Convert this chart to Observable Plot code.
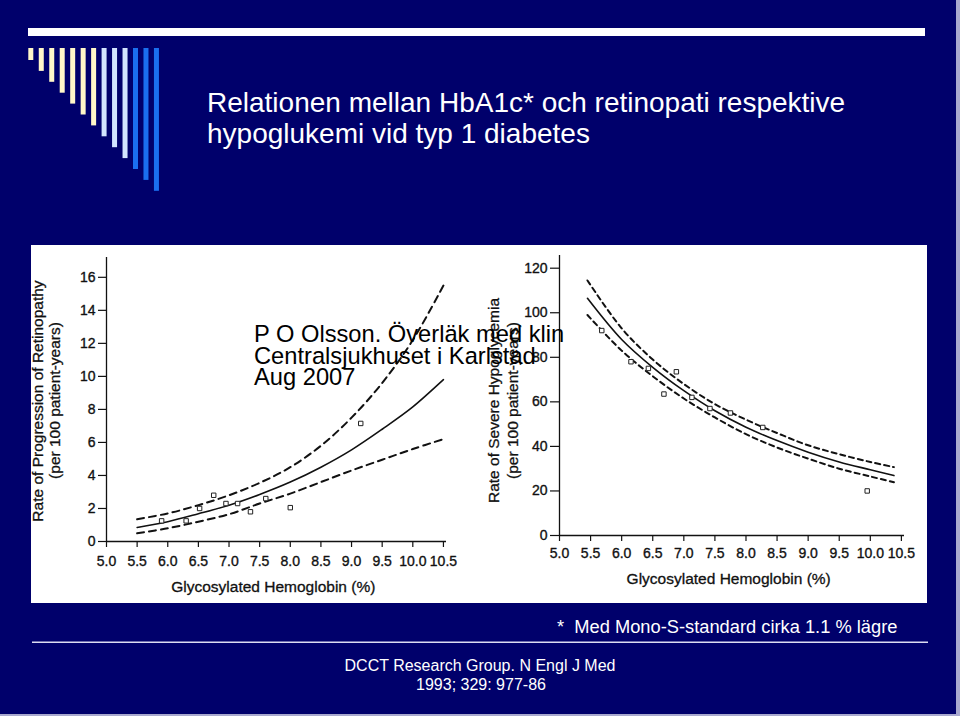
<!DOCTYPE html>
<html>
<head>
<meta charset="utf-8">
<script src="https://cdn.jsdelivr.net/npm/d3@7"></script>
<script src="https://cdn.jsdelivr.net/npm/@observablehq/plot@0.6"></script>
<style>
  html, body { margin: 0; padding: 0; background: #00006b; }
  #slide { position: relative; width: 960px; height: 716px; overflow: hidden; background: #00006b; }
  .layer { position: absolute; left: 0; top: 0; }
  .plotbox { position: absolute; top: 245px; }
  #fg { pointer-events: none; }
</style>
</head>
<body>
<div id="slide">
  <div id="leftPlot" class="plotbox" style="left:31px"></div>
  <div id="rightPlot" class="plotbox" style="left:480px"></div>
</div>
<script>
// ---------- DATA ----------
const xTicks = [5.0, 5.5, 6.0, 6.5, 7.0, 7.5, 8.0, 8.5, 9.0, 9.5, 10.0, 10.5];
const xTickLabels = ["5.0", "5.5", "6.0", "6.5", "7.0", "7.5", "8.0", "8.5", "9.0", "9.5", "10.0", "10.5"];
const retinoTicks = [0, 2, 4, 6, 8, 10, 12, 14, 16];
const hypoTicks = [0, 20, 40, 60, 80, 100, 120];

// Panel A: retinopathy progression
const retinoPointsX = [5.9, 6.3, 6.52, 6.75, 6.95, 7.14, 7.35, 7.6, 8.0, 9.15];
const retinoPointsY = [1.25, 1.25, 2.0, 2.8, 2.3, 2.3, 1.8, 2.6, 2.05, 7.15];
const retinoCurveX = [5.5, 6.0, 6.5, 7.0, 7.5, 8.0, 8.5, 9.0, 9.5, 10.0, 10.5];
const retinoFit   = [0.85, 1.2, 1.68, 2.2, 2.85, 3.6, 4.5, 5.55, 6.8, 8.15, 9.8];
const retinoUpper = [1.35, 1.7, 2.2, 2.8, 3.55, 4.5, 5.8, 7.5, 9.6, 12.2, 15.5];
const retinoLower = [0.5, 0.8, 1.2, 1.65, 2.3, 2.9, 3.6, 4.3, 4.95, 5.6, 6.2];

// Panel B: severe hypoglycemia
const hypoPointsX = [5.68, 6.15, 6.43, 6.68, 6.88, 7.13, 7.42, 7.75, 8.27, 9.95];
const hypoPointsY = [92, 78, 75, 63.5, 73.5, 62, 57, 55, 48.5, 20];
const hypoCurveX = [5.45, 6.0, 6.5, 7.0, 7.5, 8.0, 8.5, 9.0, 9.5, 10.0, 10.38];
const hypoFit   = [106.5, 88, 75.5, 65, 56, 48.6, 42.6, 37.4, 33, 29.5, 26.9];
const hypoUpper = [114.5, 93, 79, 68, 59, 52, 46, 40.5, 36.5, 33, 30.7];
const hypoLower = [99, 83, 71.5, 61.5, 53, 45.5, 39.5, 34.5, 30, 26.5, 23.9];

// ---------- TEXT ----------
const titleLines = ["Relationen mellan HbA1c* och retinopati respektive", "hypoglukemi vid typ 1 diabetes"];
const overlayLines = ["P O Olsson. Överläk med klin", "Centralsjukhuset i Karlstad", "Aug 2007"];
const xTitle = "Glycosylated Hemoglobin (%)";
const retinoYTitle = ["Rate of Progression of Retinopathy", "(per 100 patient-years)"];
const hypoYTitle = ["Rate of Severe Hypoglycemia", "(per 100 patient-years)"];
const footnote = "*  Med Mono-S-standard cirka 1.1 % lägre";
const sourceLines = ["DCCT Research Group. N Engl J Med", "1993; 329: 977-86"];

// ---------- BUILD ----------
const FONT = '"Liberation Sans", Arial, Helvetica, sans-serif';
const INK = "#111";
const slide = d3.select("#slide");

// background decoration
const bg = slide.insert("svg", ":first-child").attr("class", "layer").attr("width", 960).attr("height", 716);
bg.append("rect").attr("width", 960).attr("height", 716).attr("fill", "#00006b");
bg.append("rect").attr("x", 956).attr("y", 0).attr("width", 4).attr("height", 716).attr("fill", "#a9a9cf");
bg.append("rect").attr("x", 0).attr("y", 714).attr("width", 960).attr("height", 2).attr("fill", "#a9a9cf");
bg.append("rect").attr("x", 28).attr("y", 28).attr("width", 897).attr("height", 8).attr("fill", "#ffffff");
const stripeColors = ["#fff7c9","#fff7c9","#fff7c9","#fff7c9","#fff7c9","#fff7c9","#fff7c9",
                      "#d2e4ff","#d2e4ff","#d2e4ff","#1a6ff0","#1a6ff0","#1a6ff0"];
stripeColors.forEach((c, i) => {
  bg.append("rect").attr("x", 28.3 + i * 10.47).attr("y", 48).attr("width", 5)
    .attr("height", 12 + i * 10.9).attr("fill", c);
});
bg.append("rect").attr("x", 31).attr("y", 245).attr("width", 896).attr("height", 358).attr("fill", "#ffffff");
bg.append("rect").attr("x", 32).attr("y", 641.5).attr("width", 896).attr("height", 1.5).attr("fill", "#dcdcf2");

function curveRows(xs, ys) { return xs.map((x, i) => ({x, y: ys[i]})); }

function makePanel({ticksY, yDomain, marginLeft, marginRight, marginTop, marginBottom, width,
                    ptsX, ptsY, cX, fit, up, lo, dash, ySize, xPad}) {
  const pts = curveRows(ptsX, ptsY);
  return Plot.plot({
    width, height: 358,
    marginLeft, marginRight, marginTop, marginBottom,
    x: {domain: [5, 10.55]},
    y: {domain: yDomain},
    style: {background: "transparent", fontFamily: FONT, fontSize: "14px", color: INK, overflow: "visible"},
    marks: [
      Plot.ruleX([5], {stroke: INK, strokeWidth: 1.3}),
      Plot.ruleY([0], {stroke: INK, strokeWidth: 1.3}),
      Plot.axisX({ticks: xTicks, tickFormat: (d, i) => xTickLabels[i], tickSize: 6, tickPadding: xPad,
                  label: null, fontSize: 14, stroke: INK, fill: INK,
                  textStroke: INK, textStrokeWidth: 0.35, strokeWidth: 1.2}),
      Plot.axisY({ticks: ticksY, tickSize: ySize, tickPadding: 3, label: null, fontSize: 14, stroke: INK, fill: INK,
                  textStroke: INK, textStrokeWidth: 0.35, strokeWidth: 1.2}),
      Plot.line(curveRows(cX, up), {x: "x", y: "y", curve: "catmull-rom", stroke: INK, strokeWidth: 2, strokeDasharray: dash}),
      Plot.line(curveRows(cX, lo), {x: "x", y: "y", curve: "catmull-rom", stroke: INK, strokeWidth: 2, strokeDasharray: dash}),
      Plot.line(curveRows(cX, fit), {x: "x", y: "y", curve: "catmull-rom", stroke: INK, strokeWidth: 1.6}),
      Plot.dot(pts, {x: "x", y: "y", symbol: "square", r: 2.5, fill: "white", stroke: "#222", strokeWidth: 1})
    ]
  });
}

document.getElementById("leftPlot").append(makePanel({
  ticksY: retinoTicks, yDomain: [0, 17.2], width: 449,
  marginLeft: 75, marginRight: 34, marginTop: 12, marginBottom: 62,
  ptsX: retinoPointsX, ptsY: retinoPointsY, cX: retinoCurveX, fit: retinoFit, up: retinoUpper, lo: retinoLower,
  dash: "7,5", ySize: 8, xPad: 9
}));
document.getElementById("rightPlot").append(makePanel({
  ticksY: hypoTicks, yDomain: [0, 125.7], width: 447,
  marginLeft: 79, marginRight: 23, marginTop: 10, marginBottom: 68,
  ptsX: hypoPointsX, ptsY: hypoPointsY, cX: hypoCurveX, fit: hypoFit, up: hypoUpper, lo: hypoLower,
  dash: "5,4", ySize: 9, xPad: 7
}));

// foreground text layer
const fg = slide.append("svg").attr("id", "fg").attr("class", "layer").attr("width", 960).attr("height", 716)
  .style("font-family", FONT);
function txt(s, x, y, size, fill, anchor = "start", rotate = 0, heavy = 0) {
  const t = fg.append("text").attr("x", x).attr("y", y).attr("font-size", size).attr("fill", fill)
    .attr("text-anchor", anchor).style("white-space", "pre").text(s);
  if (heavy) t.attr("stroke", fill).attr("stroke-width", heavy);
  if (rotate) t.attr("transform", `rotate(${rotate},${x},${y})`);
  return t;
}
txt(titleLines[0], 207, 112, 28, "#ffffff");
txt(titleLines[1], 207, 143, 28, "#ffffff");

txt(retinoYTitle[0], 43, 401, 15.5, INK, "middle", -90, 0.3);
txt(retinoYTitle[1], 60, 400.5, 15.5, INK, "middle", -90, 0.3);
txt(xTitle, 273.3, 592, 15.5, INK, "middle", 0, 0.3);
txt(hypoYTitle[0], 499.4, 400.5, 15.5, INK, "middle", -90, 0.3);
txt(hypoYTitle[1], 518.4, 400.5, 15.5, INK, "middle", -90, 0.3);
txt(xTitle, 728.7, 584, 15.5, INK, "middle", 0, 0.3);

overlayLines.forEach((s, i) => txt(s, 254, 342 + i * 21.6, 23.7, "#000000"));

txt(footnote, 557, 633, 18.3, "#ffffff");
txt(sourceLines[0], 480, 671, 16, "#ffffff", "middle");
txt(sourceLines[1], 481, 690, 16, "#ffffff", "middle");
</script>
</body>
</html>
